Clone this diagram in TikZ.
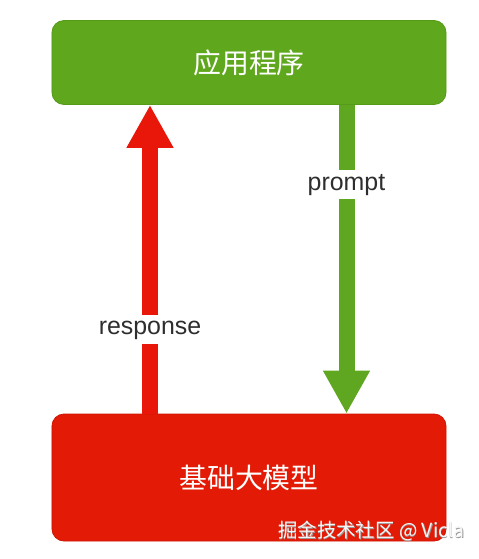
\documentclass[tikz,border=0pt]{standalone}
\usepackage{fontspec}
\setmainfont{Liberation Sans}
\newfontfamily\cjk{Noto Sans CJK SC}
\usetikzlibrary{arrows.meta}
\definecolor{boxgreen}{HTML}{5FA71D}
\definecolor{boxgreenD}{HTML}{559A18}
\definecolor{boxred}{HTML}{E31A06}
\definecolor{boxredD}{HTML}{D01505}
\definecolor{arrgreen}{HTML}{5FA720}
\definecolor{arrred}{HTML}{E8170A}
\definecolor{labelgray}{HTML}{2E2E2E}
\tikzset{
  bigbox/.style={rounded corners=12bp, minimum width=394bp, inner sep=0pt,
    text=white, font=\cjk\fontsize{28}{32}\selectfont},
  fatarrow/.style={line width=16bp, -{Triangle[length=43bp,width=44bp]}},
  arrlabel/.style={fill=white, text=labelgray, inner sep=2bp,
    minimum height=29bp, font=\fontsize{25}{28}\selectfont},
  wmark/.style={anchor=west, inner sep=0pt, font=\cjk\fontsize{19.5}{22}\selectfont}
}
\begin{document}
\begin{tikzpicture}[x=1bp,y=-1bp]
\useasboundingbox (0,0) rectangle (479,559);
\node[bigbox, fill=boxgreen, draw=boxgreenD, line width=0.8bp, minimum height=84bp] (app) at (249,62.5) {应用程序};
\node[bigbox, fill=boxred, draw=boxredD, line width=0.8bp, minimum height=127bp] (model) at (249,477.5) {基础大模型};
\draw[fatarrow, arrred] (model.north -| 150,0) -- node[arrlabel, pos=0.285, text depth=4bp, yshift=-4bp] (resp) {response} (app.south -| 150,0);
\draw[fatarrow, arrgreen] (app.south -| 346.5,0) -- node[arrlabel, pos=0.245, text depth=4bp, yshift=-4bp] (prm) {prompt} (model.north -| 346.5,0);
\node[wmark, text=gray!80] (wmshadow) at (278.6,531.6) {掘金技术社区 @ Vicla};
\node[wmark, text=white!93!gray] (wm) at (278,531) {掘金技术社区 @ Vicla};
\end{tikzpicture}
\end{document}
